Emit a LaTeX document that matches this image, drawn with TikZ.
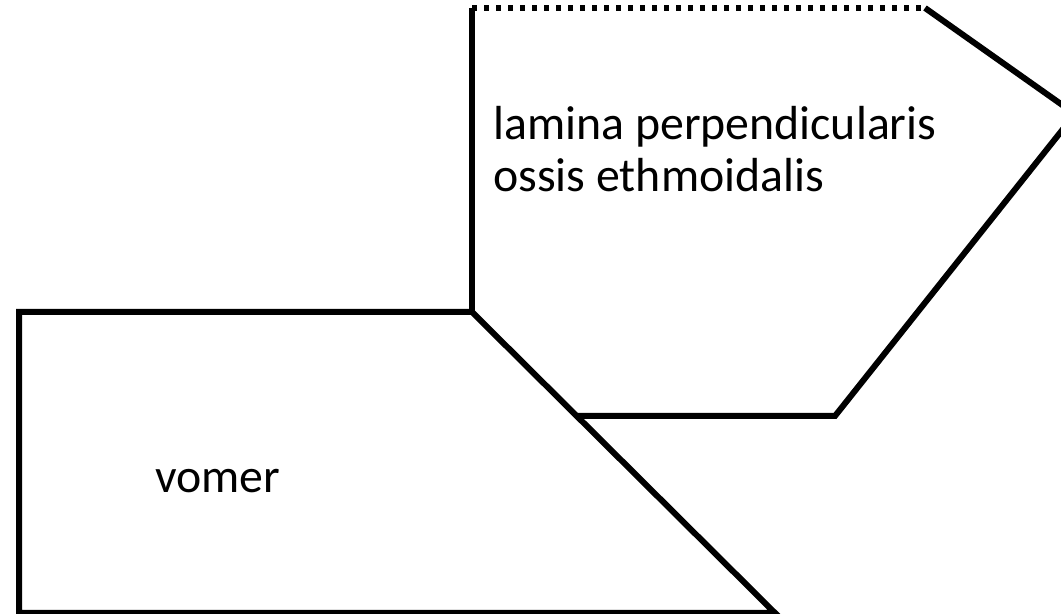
\documentclass[tikz,border=0pt]{standalone}
\usepackage{fontspec}
\setmainfont{Carlito}
\usepackage[dvipsnames,svgnames]{xcolor}
\usepackage{tkz-euclide}
\tikzset{bone/.style={draw=black,line width=0.12cm,line cap=butt,line join=miter},
  bonedots/.style={bone,line width=0.11cm,dash pattern=on 0.1cm off 0.14cm},
  bonename/.style={font=\fontsize{27.2}{31}\selectfont,inner sep=0pt,anchor=base west}}

\begin{document}
\begin{tikzpicture}
    \clip (0,0) rectangle (21.22,12.28);
    % lamina perpendicularis
    \tkzDefPoint(9.44,6.04){A}
    \tkzDefPoint(9.44,12.12){B}
    \tkzDefPoint(18.50,12.12){C}
    \tkzDefPoint(21.50,10.00){D}
    \tkzDefPoint(16.70,3.96){E}
    \tkzDefPoint(11.54,3.96){F}
    % vomer
    \tkzDefPoint(0.38,6.04){G}
    \tkzDefPoint(15.50,0.02){H}
    \tkzDefPoint(0.38,0.02){I}
    \draw[bone] (G) -- (A) -- (H) -- (I) -- cycle;
    \draw[bone] (A) -- (B);
    \draw[bone] (C) -- (D) -- (E) -- (F);
    \draw[bonedots] (B) -- (C);
    \node[bonename] (lamina) at (9.86,9.48) {lamina perpendicularis};
    \node[bonename] (ossis) at (9.86,8.44) {ossis ethmoidalis};
    \node[bonename] (vomer) at (3.10,2.42) {vomer};
  \end{tikzpicture}
\end{document}
